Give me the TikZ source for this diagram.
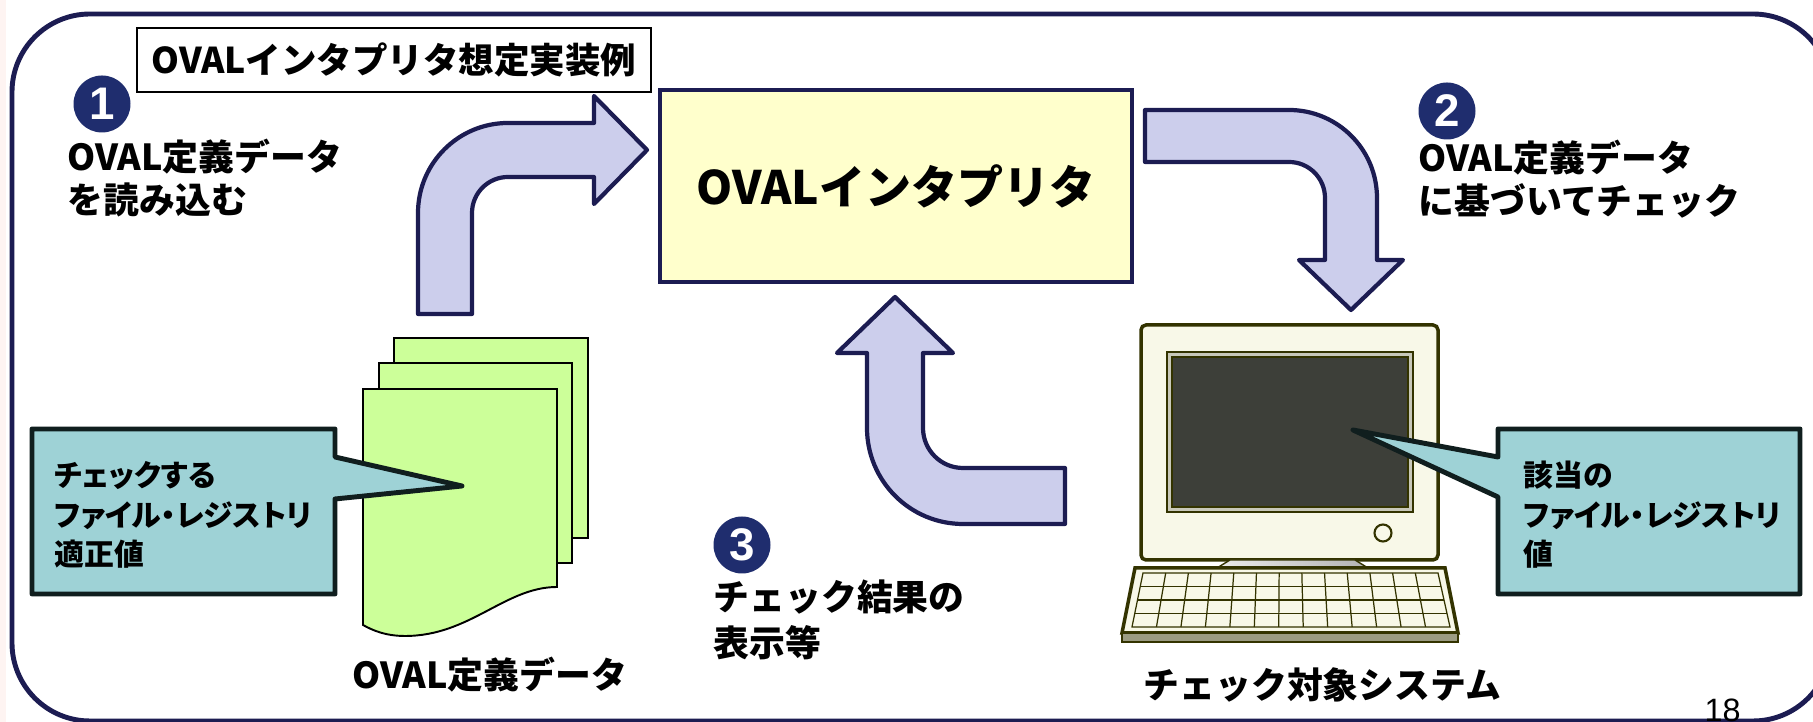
\documentclass[tikz,border=0pt]{standalone}
\usepackage{fontspec}
\newfontfamily\jp{Noto Sans CJK JP}
\newfontfamily\jpprop{Noto Sans CJK JP}[RawFeature=+palt]
\setsansfont{Liberation Sans}
\usetikzlibrary{positioning,calc}

\definecolor{frameNavy}{RGB}{28,28,82}
\definecolor{dotNavy}{RGB}{31,45,110}
\definecolor{arrowFill}{RGB}{204,206,236}
\definecolor{interpFill}{RGB}{255,255,204}
\definecolor{sheetGreen}{RGB}{204,255,153}
\definecolor{calloutFill}{RGB}{158,210,214}
\definecolor{calloutLine}{RGB}{16,30,30}
\definecolor{pcBody}{RGB}{248,248,232}
\definecolor{pcLine}{RGB}{51,51,0}
\definecolor{pcScreen}{RGB}{61,63,57}
\definecolor{pcBezel}{RGB}{200,200,186}
\definecolor{edgePink}{RGB}{254,244,242}

\begin{document}
\begin{tikzpicture}[
  x=0.1mm, y=-0.1mm,
  font=\jp\bfseries,
  frame/.style={draw=frameNavy, line width=1.4pt, rounded corners=7.8mm},
  tagBox/.style={draw, line width=0.6pt, fill=white, minimum width=51.4mm, minimum height=6.4mm, inner sep=0pt, font=\jp\bfseries\fontsize{10.1pt}{12pt}\selectfont},
  interpBox/.style={draw=frameNavy, line width=1.2pt, fill=interpFill, minimum width=47.2mm, minimum height=19.2mm, font=\jp\bfseries\fontsize{13.1pt}{15pt}\selectfont},
  numDot/.style={circle, fill=dotNavy, text=white, minimum size=5.7mm, inner sep=0pt, font=\sffamily\bfseries\fontsize{13pt}{13pt}\selectfont},
  stepText/.style={anchor=west, align=left, inner sep=0pt, font=\jp\bfseries\fontsize{10.2pt}{12.2pt}\selectfont},
  caption/.style={anchor=west, inner sep=0pt, font=\jp\bfseries\fontsize{10.2pt}{12pt}\selectfont},
  blockArrow/.style={draw=frameNavy, line width=1.2pt, fill=arrowFill, line join=round},
  sheet/.style={draw=black, line width=0.55pt, fill=sheetGreen},
  callout/.style={draw=calloutLine, line width=1.4pt, fill=calloutFill, line join=round},
  calloutText/.style={anchor=west, align=left, inner sep=0pt, font=\jpprop\bfseries\fontsize{8.5pt}{11.2pt}\selectfont},
  pcPart/.style={draw=pcLine, line width=1pt, fill=pcBody},
  keyLine/.style={draw=pcLine, line width=0.35pt},
]
\useasboundingbox (0,0) rectangle (1813,722);
\clip (0,0) rectangle (1813,722);
\fill[white] (0,0) rectangle (1813,722);
\fill[edgePink] (0,0) rectangle (6,722);

% --- outer frame ---
\draw[frame] (12,14) rectangle (1831,721);

% --- title and interpreter ---
\node[tagBox] (tag) at (394,60) {OVALインタプリタ想定実装例};
\node[interpBox] (interp) at (896,186) {OVALインタプリタ};

% --- step labels ---
\node[numDot] (n1) at (102,104) {1};
\node[stepText] (t1) at (67,178) {OVAL定義データ\\を読み込む};
\node[numDot] (n2) at (1447,111) {2};
\node[stepText] (t2) at (1418,179) {OVAL定義データ\\に基づいてチェック};
\node[numDot] (n3) at (742,545) {3};
\node[stepText, font=\jp\bfseries\fontsize{10.2pt}{13.2pt}\selectfont] (t3) at (713,620) {チェック結果の\\表示等};

% --- bent block arrows ---
\draw[blockArrow] (418,314) -- (418,213) .. controls (418,163.3) and (458.3,123) .. (508,123)
  -- (594,123) -- (594,96) -- (647,150) -- (594,204) -- (594,177) -- (508,177)
  .. controls (488.1,177) and (472,193.1) .. (472,213) -- (472,314) -- cycle;
\draw[blockArrow] (1145,110) -- (1289,110) .. controls (1337.6,110) and (1377,149.4) .. (1377,198)
  -- (1377,260) -- (1403,260) -- (1351,310) -- (1299,260) -- (1325,260) -- (1325,198)
  .. controls (1325,178.1) and (1308.9,162) .. (1289,162) -- (1145,162) -- cycle;
\draw[blockArrow] (1065,524) -- (963,524) .. controls (910,524) and (867,481) .. (867,428)
  -- (867,353) -- (837,353) -- (895,297) -- (953,353) -- (923,353) -- (923,428)
  .. controls (923,450.1) and (940.9,468) .. (963,468) -- (1065,468) -- cycle;

% --- definition data sheets ---
\draw[sheet] (394,338) rectangle (588,538);
\draw[sheet] (379,363) rectangle (572,563);
\draw[sheet] (363,389) -- (557,389) -- (557,587) .. controls (505,587) and (470,636) .. (405,636)
  .. controls (385,636) and (372,630) .. (363,625) -- cycle;
\node[caption] (dataLbl) at (352,675) {OVAL定義データ};

% --- target computer ---
\draw[pcPart, rounded corners=0.5mm] (1141,325) rectangle (1438,560);
\draw[draw=pcLine, line width=0.5pt, fill=pcBezel] (1167,352) rectangle (1413,512);
\draw[draw=pcLine, line width=0.4pt, fill=pcScreen] (1172,357) rectangle (1408,507);
\draw[draw=pcLine, line width=0.6pt, fill=pcBody] (1383,533) circle (8.5);
\shade[left color=gray!15, right color=gray!60, draw=pcLine, line width=0.4pt]
  (1217,568) -- (1230,560) -- (1355,560) -- (1368,568) -- cycle;
\draw[pcPart] (1135,568) -- (1445,568) -- (1458,633) -- (1122,633) -- cycle;
\draw[draw=pcLine, line width=0.8pt, fill=pcBezel!70!pcLine] (1122,633) rectangle (1458,642);
\draw[keyLine] (1143,573) -- (1438,573) -- (1450,627) -- (1132,627) -- cycle;
\foreach \i in {1,...,12}
  \draw[keyLine] ({1143+\i*295/13},573) -- ({1132+\i*318/13},627);
\foreach \j in {1,2,3}
  \draw[keyLine] ({1143-\j*11/4},{573+\j*54/4}) -- ({1438+\j*12/4},{573+\j*54/4});
\node[caption] (pcLbl) at (1143,685) {チェック対象システム};

% --- callouts ---
\draw[callout] (32,429) -- (335,429) -- (335,457) -- (462,486) -- (335,499) -- (335,594) -- (32,594) -- cycle;
\node[calloutText] (c1) at (54,515) {チェックする\\ファイル・レジストリ\\適正値};
\draw[callout] (1498,429) -- (1800,429) -- (1800,594) -- (1498,594) -- (1498,497) -- (1353,430) -- (1498,457) -- cycle;
\node[calloutText] (c2) at (1523,515) {該当の\\ファイル・レジストリ\\値};

% --- page number ---
\node[anchor=base west, inner sep=0pt, font=\sffamily\mdseries\fontsize{9.2pt}{10pt}\selectfont] (pageNo) at (1704,722) {18};
\end{tikzpicture}
\end{document}
